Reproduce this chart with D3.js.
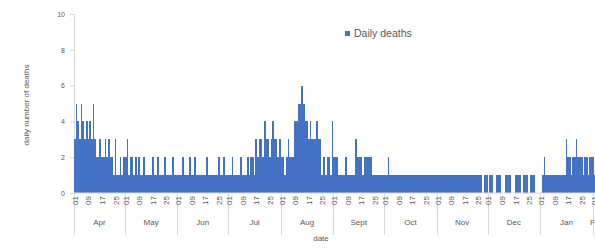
<!DOCTYPE html>
<html>
<head>
<meta charset="utf-8">
<script src="https://cdn.jsdelivr.net/npm/d3@7"></script>
<style>
body { margin: 0; background: #fff; }
svg { display: block; }
text { font-family: "Liberation Sans", Arial, sans-serif; fill: #595959; }
</style>
</head>
<body>
<div id="chart"></div>
<script>
// daily deaths, one array per month, starting 1 Apr
var startDay = "2020-04-01";
var aprDeaths = [3,5,4,3,5,4,3,4,3,4, 3,5,3,2,2,3,2,2,3,2, 3,2,2,1,3,1,1,2,1,2];
var mayDeaths = [2,3,1,2,2,1,2,1,2,1, 1,2,1,1,1,1,2,1,1,2, 1,1,1,2,1,1,1,1,2,1, 1];
var junDeaths = [1,1,1,2,1,1,1,2,1,1, 2,1,1,1,1,1,1,2,1,1, 1,1,1,1,2,1,1,2,1,1];
var julDeaths = [1,1,2,1,1,1,1,2,1,1, 1,2,1,2,2,1,3,2,3,3, 2,4,3,3,2,3,4,3,3,2, 3];
var augDeaths = [2,2,1,2,3,2,2,2,4,4, 5,5,6,5,4,4,3,4,3,3, 3,4,3,3,1,2,1,2,2,1, 4];
var sepDeaths = [2,2,2,1,1,1,1,2,1,1, 1,1,1,3,2,2,2,1,2,2, 2,2,2,1,1,1,1,1,1,1];
var octDeaths = [1,1,2,1,1,1,1,1,1,1, 1,1,1,1,1,1,1,1,1,1, 1,1,1,1,1,1,1,1,1,1, 1];
var novDeaths = [1,1,1,1,1,1,1,1,1,1, 1,1,1,1,1,1,1,1,1,1, 1,1,1,1,1,1,1,0,1,1];
var decDeaths = [0,1,1,0,0,1,1,1,0,0, 1,1,1,1,0,0,1,1,1,1, 0,1,1,1,0,1,1,1,0,0, 0];
var janDeaths = [0,1,2,1,1,1,1,1,1,1, 1,1,1,1,1,3,2,2,1,2, 2,3,2,2,2,1,2,2,1,2, 2];
var febDeaths = [2,1,2,1,1];

var monthNames = ["Apr", "May", "Jun", "Jul", "Aug", "Sept", "Oct", "Nov", "Dec", "Jan", "Feb"];
var dayLabels = [1, 9, 17, 25];
var yTicks = [0, 2, 4, 6, 8, 10];

var width = 595, height = 251;
var margin = { left: 74, top: 14, bottom: 193 };
var pxPerDay = 1.695;

var allDeaths = [].concat(aprDeaths, mayDeaths, junDeaths, julDeaths, augDeaths,
    sepDeaths, octDeaths, novDeaths, decDeaths, janDeaths, febDeaths);
var start = d3.utcParse("%Y-%m-%d")(startDay);
var data = allDeaths.map(function(v, i) {
    return { date: d3.utcDay.offset(start, i), value: v };
});
var end = d3.utcDay.offset(start, data.length);

var svg = d3.select("#chart").append("svg")
    .attr("width", width).attr("height", height);

var x = d3.scaleUtc()
    .domain([start, end])
    .range([margin.left, margin.left + data.length * pxPerDay]);
var y = d3.scaleLinear().domain([0, 10]).range([margin.bottom, margin.top]);

// y axis
var yAxis = svg.append("g")
    .attr("transform", "translate(" + margin.left + ",0)")
    .call(d3.axisLeft(y).tickValues(yTicks).tickSize(4).tickPadding(5));
yAxis.select(".domain").attr("stroke", "#d9d9d9");
yAxis.selectAll(".tick line").attr("stroke", "#d9d9d9");
yAxis.selectAll(".tick text").style("font-size", "7px").attr("fill", "#595959");

// bars
svg.append("g")
    .attr("shape-rendering", "crispEdges")
    .selectAll("rect")
    .data(data.filter(function(d) { return d.value > 0; }))
    .enter().append("rect")
    .attr("x", function(d) { return x(d.date); })
    .attr("width", function(d) { return x(d3.utcDay.offset(d.date, 1)) - x(d.date); })
    .attr("y", function(d) { return y(d.value); })
    .attr("height", function(d) { return y(0) - y(d.value); })
    .attr("fill", "#4472C4");

// x axis line
svg.append("line")
    .attr("x1", x(start)).attr("x2", x(end))
    .attr("y1", y(0)).attr("y2", y(0))
    .attr("stroke", "#d9d9d9");

// month groups
var months = d3.utcMonth.range(start, end);
svg.append("g").selectAll("line")
    .data(months.concat([end]))
    .enter().append("line")
    .attr("x1", function(d) { return Math.round(x(d)) + 0.5; })
    .attr("x2", function(d) { return Math.round(x(d)) + 0.5; })
    .attr("y1", y(0)).attr("y2", y(0) + 42)
    .attr("stroke", "#d9d9d9");

svg.append("g").selectAll("text")
    .data(months)
    .enter().append("text")
    .attr("x", function(d) {
        var e = d3.utcMonth.offset(d, 1);
        if (e > end) e = end;
        return (x(d) + x(e)) / 2;
    })
    .attr("y", y(0) + 32)
    .attr("text-anchor", "middle")
    .style("font-size", "8px")
    .text(function(d, i) { return monthNames[i]; });

// day labels
var labelDays = data.filter(function(d) {
    return dayLabels.indexOf(d.date.getUTCDate()) >= 0;
});
svg.append("g").selectAll("text")
    .data(labelDays)
    .enter().append("text")
    .attr("transform", function(d) {
        var cx = x(d.date) + pxPerDay / 2;
        return "translate(" + (cx + 3) + "," + (y(0) + 3) + ") rotate(-90)";
    })
    .attr("text-anchor", "end")
    .style("font-size", "8px")
    .attr("fill", "#404040")
    .text(function(d) { return d3.utcFormat("%d")(d.date); });

// titles
svg.append("text")
    .attr("transform", "translate(29,105) rotate(-90)")
    .attr("text-anchor", "middle")
    .style("font-size", "8px")
    .text("daily number of deaths");

svg.append("text")
    .attr("x", 321).attr("y", 241)
    .attr("text-anchor", "middle")
    .style("font-size", "8px")
    .text("date");

// legend
var legend = svg.append("g").attr("transform", "translate(345,31)");
legend.append("rect").attr("width", 5).attr("height", 5).attr("fill", "#4472C4");
legend.append("text").attr("x", 9).attr("y", 6)
    .style("font-size", "10.5px")
    .text("Daily deaths");
</script>
</body>
</html>
